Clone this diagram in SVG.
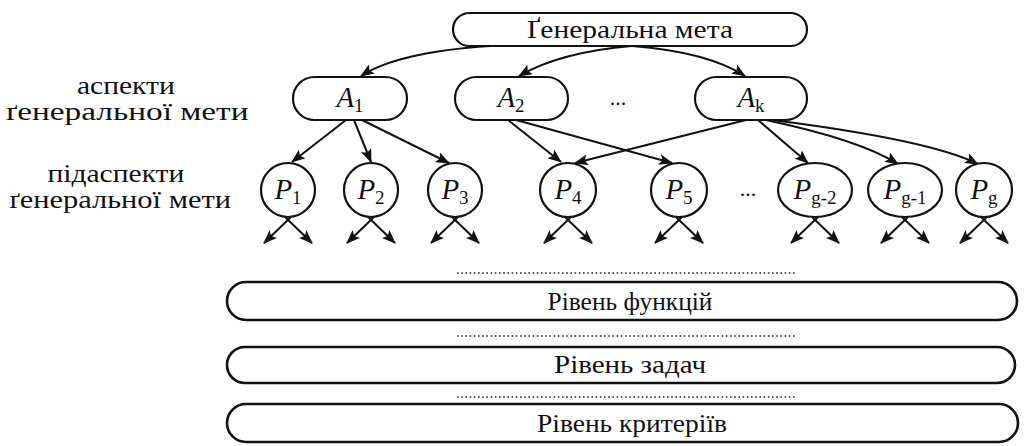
<svg xmlns="http://www.w3.org/2000/svg" width="1032" height="446" viewBox="0 0 1032 446">
  <defs>
    <marker id="arrow" markerUnits="userSpaceOnUse" markerWidth="14" markerHeight="11" refX="13" refY="5.5" orient="auto">
      <path d="M0,0 L14,5.5 L0,11 L3,5.5 z" fill="#111"/>
    </marker>
    <style>
      .box { fill: none; stroke: #111; stroke-width: 2.6; }
      .node { fill: #fff; stroke: #111; stroke-width: 2.2; }
      .edge { fill: none; stroke: #111; stroke-width: 2; marker-end: url(#arrow); }
      .dots { stroke: #222; stroke-width: 1.6; stroke-dasharray: 1.6 2.6; }
      text { font-family: 'Liberation Serif', 'Times New Roman', serif; fill: #111; }
      .lbl { font-size: 25px; }
      .ttl { font-size: 26px; }
      .sym { font-size: 29px; font-style: italic; }
      .sub { font-size: 19px; font-style: normal; }
    </style>
  </defs>
  <rect width="1032" height="446" fill="#fff"/>

  <!-- side captions -->
  <g id="caption-aspects">
    <text class="lbl" text-anchor="middle">
      <tspan x="129" y="94" textLength="98" lengthAdjust="spacingAndGlyphs">аспекти</tspan>
      <tspan x="127" y="120" textLength="243" lengthAdjust="spacingAndGlyphs">ґенеральної мети</tspan>
    </text>
  </g>
  <g id="caption-subaspects">
    <text class="lbl" text-anchor="middle">
      <tspan x="119" y="182" textLength="137" lengthAdjust="spacingAndGlyphs">підаспекти</tspan>
      <tspan x="120" y="208" textLength="222" lengthAdjust="spacingAndGlyphs">ґенеральної мети</tspan>
    </text>
  </g>

  <!-- connectors -->
  <g id="connectors">
    <!-- goal to aspects -->
    <path class="edge" d="M490,46 Q398,52 361,76"/>
    <path class="edge" d="M632,46 Q560,52 519,76"/>
    <path class="edge" d="M632,46 Q708,52 745,76"/>
    <!-- aspects to sub-aspects -->
    <path class="edge" d="M346,120 L292,162"/>
    <path class="edge" d="M354,120 L371,162"/>
    <path class="edge" d="M362,120 L449,163"/>
    <path class="edge" d="M508,120 L561,162"/>
    <path class="edge" d="M516,120 L672,163"/>
    <path class="edge" d="M746,120 L575,163"/>
    <path class="edge" d="M758,120 L808,163"/>
    <path class="edge" d="M766,120 Q860,140 898,164"/>
    <path class="edge" d="M772,120 Q930,140 978,164"/>
    <!-- sub-aspects downward -->
    <path class="edge" d="M291,217 L264,243"/><path class="edge" d="M285,217 L312,243"/>
    <path class="edge" d="M374,217 L347,243"/><path class="edge" d="M368,217 L395,243"/>
    <path class="edge" d="M458,217 L431,243"/><path class="edge" d="M452,217 L479,243"/>
    <path class="edge" d="M571,217 L544,243"/><path class="edge" d="M565,217 L592,243"/>
    <path class="edge" d="M682,217 L655,243"/><path class="edge" d="M676,217 L703,243"/>
    <path class="edge" d="M818,217 L791,243"/><path class="edge" d="M812,217 L839,243"/>
    <path class="edge" d="M908,217 L881,243"/><path class="edge" d="M902,217 L929,243"/>
    <path class="edge" d="M987,217 L960,243"/><path class="edge" d="M981,217 L1008,243"/>
  </g>

  <!-- general goal -->
  <g id="goal">
    <rect class="node" x="453" y="13" width="354" height="33" rx="16.5"/>
    <text class="ttl" x="630" y="38" text-anchor="middle" textLength="206" lengthAdjust="spacingAndGlyphs">Ґенеральна мета</text>
  </g>

  <!-- aspects -->
  <g id="aspect-1">
    <rect class="node" x="293" y="77" width="114" height="43" rx="21.5"/>
    <text class="sym" x="350" y="107" text-anchor="middle">A<tspan class="sub" dy="5">1</tspan></text>
  </g>
  <g id="aspect-2">
    <rect class="node" x="455" y="77" width="113" height="43" rx="21.5"/>
    <text class="sym" x="511" y="107" text-anchor="middle">A<tspan class="sub" dy="5">2</tspan></text>
  </g>
  <g id="aspect-dots">
    <text x="618" y="105" text-anchor="middle" font-size="22">...</text>
  </g>
  <g id="aspect-k">
    <rect class="node" x="695" y="77" width="112" height="43" rx="21.5"/>
    <text class="sym" x="751" y="107" text-anchor="middle">A<tspan class="sub" dy="5" font-style="italic">k</tspan></text>
  </g>

  <!-- sub-aspects -->
  <g id="sub-1">
    <ellipse class="node" cx="288" cy="190" rx="27" ry="27"/>
    <text class="sym" x="288" y="199" text-anchor="middle">P<tspan class="sub" dy="5">1</tspan></text>
  </g>
  <g id="sub-2">
    <ellipse class="node" cx="371" cy="190" rx="27" ry="27"/>
    <text class="sym" x="371" y="199" text-anchor="middle">P<tspan class="sub" dy="5">2</tspan></text>
  </g>
  <g id="sub-3">
    <ellipse class="node" cx="455" cy="190" rx="27" ry="27"/>
    <text class="sym" x="455" y="199" text-anchor="middle">P<tspan class="sub" dy="5">3</tspan></text>
  </g>
  <g id="sub-4">
    <ellipse class="node" cx="568" cy="190" rx="28" ry="27"/>
    <text class="sym" x="568" y="199" text-anchor="middle">P<tspan class="sub" dy="5">4</tspan></text>
  </g>
  <g id="sub-5">
    <ellipse class="node" cx="679" cy="190" rx="28" ry="27"/>
    <text class="sym" x="679" y="199" text-anchor="middle">P<tspan class="sub" dy="5">5</tspan></text>
  </g>
  <g id="sub-dots">
    <text x="748" y="196" text-anchor="middle" font-size="22">...</text>
  </g>
  <g id="sub-g-2">
    <ellipse class="node" cx="815" cy="190" rx="37" ry="27"/>
    <text class="sym" x="815" y="199" text-anchor="middle">P<tspan class="sub" dy="5">g-2</tspan></text>
  </g>
  <g id="sub-g-1">
    <ellipse class="node" cx="905" cy="190" rx="37" ry="27"/>
    <text class="sym" x="905" y="199" text-anchor="middle">P<tspan class="sub" dy="5">g-1</tspan></text>
  </g>
  <g id="sub-g">
    <ellipse class="node" cx="984" cy="190" rx="28" ry="27"/>
    <text class="sym" x="984" y="199" text-anchor="middle">P<tspan class="sub" dy="5">g</tspan></text>
  </g>

  <!-- levels -->
  <g id="level-separators">
    <line class="dots" x1="457" y1="273" x2="797" y2="273"/>
    <line class="dots" x1="457" y1="336" x2="797" y2="336"/>
    <line class="dots" x1="457" y1="397" x2="797" y2="397"/>
  </g>
  <g id="level-functions">
    <rect class="box" x="227" y="282" width="790" height="38" rx="19"/>
    <text class="ttl" x="630" y="310" text-anchor="middle" textLength="165" lengthAdjust="spacingAndGlyphs">Рівень функцій</text>
  </g>
  <g id="level-tasks">
    <rect class="box" x="227" y="347" width="788" height="36" rx="18"/>
    <text class="ttl" x="630" y="373" text-anchor="middle" textLength="152" lengthAdjust="spacingAndGlyphs">Рівень задач</text>
  </g>
  <g id="level-criteria">
    <rect class="box" x="227" y="404" width="791" height="38" rx="19"/>
    <text class="ttl" x="632" y="432" text-anchor="middle" textLength="190" lengthAdjust="spacingAndGlyphs">Рівень критеріїв</text>
  </g>
</svg>
